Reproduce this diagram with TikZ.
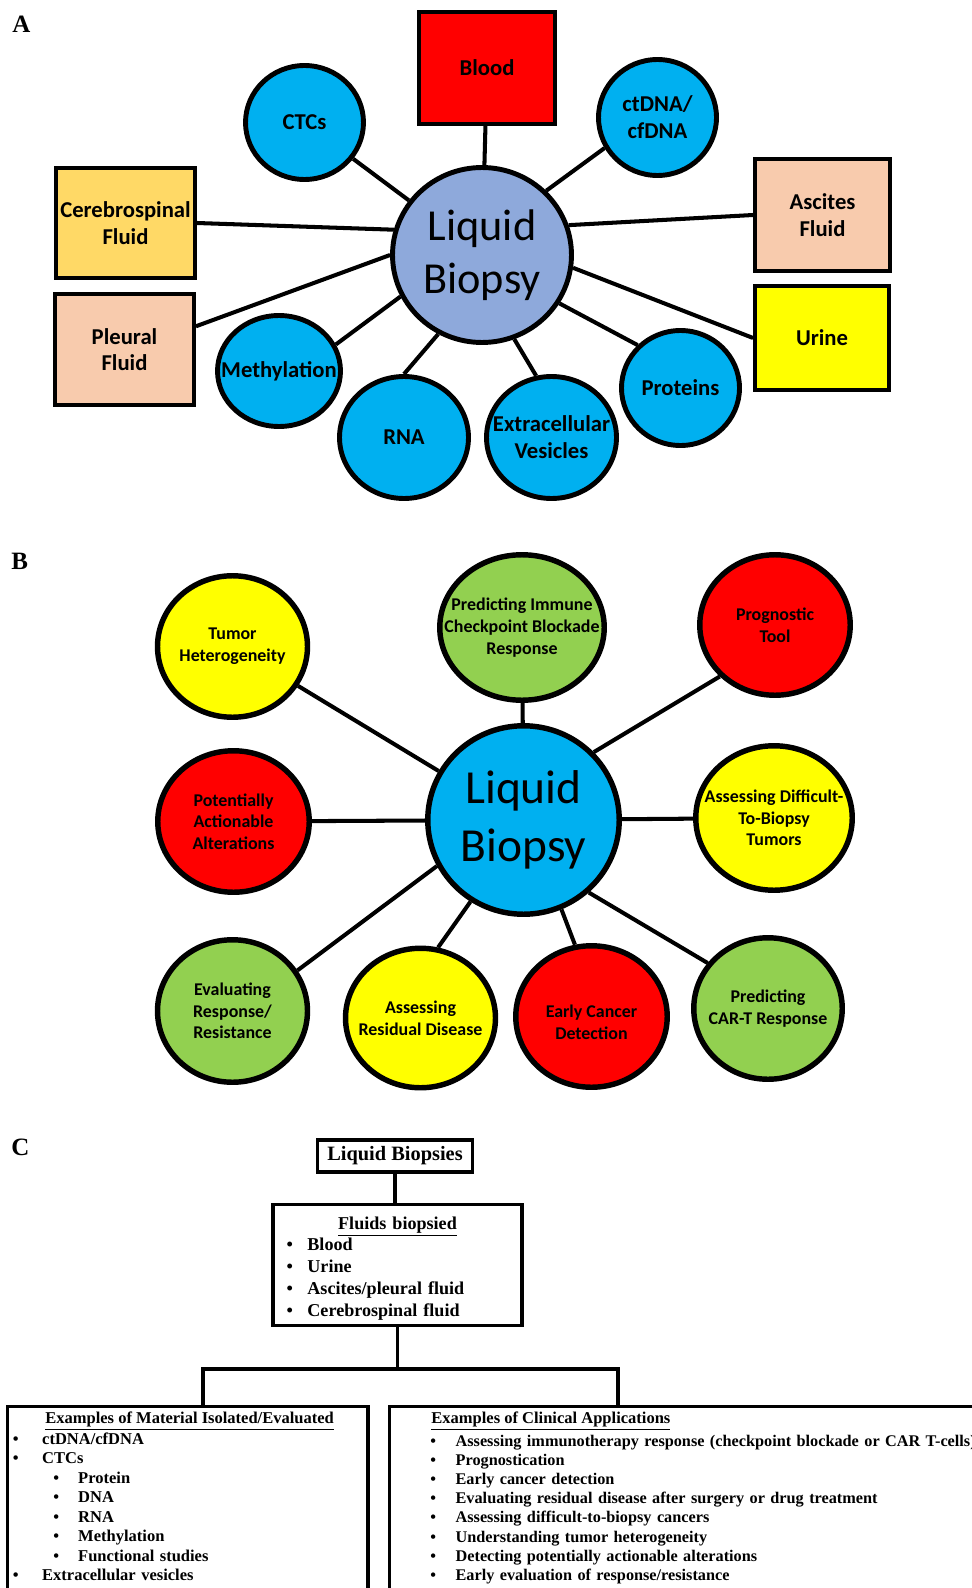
\documentclass[tikz,border=0pt]{standalone}
\usepackage{fontspec}
\setmainfont{Liberation Serif}
\newfontfamily\cali{Carlito}
\usepackage{xcolor}
\definecolor{cyan-500}{RGB}{0,176,240}
\definecolor{steel-300}{RGB}{142,169,219}
\definecolor{red-500}{RGB}{255,0,0}
\definecolor{gold-300}{RGB}{255,217,102}
\definecolor{peach-200}{RGB}{248,203,173}
\definecolor{yellow-400}{RGB}{255,255,0}
\definecolor{green-400}{RGB}{146,208,80}
\usepackage{tikz}
\usetikzlibrary{shapes.geometric}

\begin{document}
\begin{tikzpicture}[
    x=0.02cm, y=-0.02cm,
    panel/.style={
        anchor=base west,
        inner sep=0pt,
        font=\bfseries\fontsize{14.2}{16}\selectfont
    },
    hub/.style={
        ellipse,
        draw=black,
        fill=#1,
        inner sep=0pt,
        align=center
    },
    bubA/.style={
        ellipse,
        draw=black,
        line width=2.8pt,
        fill=cyan-500,
        inner sep=0pt
    },
    txtA/.style={
        inner sep=0pt,
        align=center,
        font=\cali\bfseries\fontsize{12.9}{15.4}\selectfont
    },
    boxA/.style={
        rectangle,
        draw=black,
        line width=2.5pt,
        fill=#1,
        inner sep=1pt,
        align=center,
        font=\cali\bfseries\fontsize{12.9}{15.1}\selectfont
    },
    bubB/.style={
        ellipse,
        draw=black,
        line width=3.1pt,
        fill=#1,
        inner sep=0pt,
        minimum width=3cm,
        minimum height=2.83cm
    },
    txtB/.style={
        inner sep=0pt,
        align=center,
        font=\cali\bfseries\fontsize{10.2}{12.3}\selectfont
    },
    spoke/.style={line width=2.3pt},
    tree/.style={line width=1.8pt},
    cbox/.style={
        rectangle,
        draw=black,
        line width=1.8pt,
        fill=white
    },
    listhead/.style={
        anchor=base west,
        inner sep=0pt,
        font=\bfseries\fontsize{9.4}{11.1}\selectfont
    },
    listtext/.style={
        anchor=base west,
        inner sep=0pt,
        align=left,
        font=\bfseries\fontsize{9.4}{11.1}\selectfont
    }
]

\clip (0,0) rectangle (972,1588);
\fill[white] (0,0) rectangle (972,1588);

% === PANEL A: sources and analytes ===
\node[panel] (labA) at (12,33) {A};

\node[hub=steel-300, line width=2.8pt, minimum width=3.58cm, minimum height=3.5cm,
      font=\cali\fontsize{25.2}{30}\selectfont] (hubA) at (482,255) {Liquid\\Biopsy};

% fluids (boxes)
\node[boxA=red-500, minimum width=2.71cm, minimum height=2.23cm] (blood) at (487,68) {Blood};
\node[boxA=gold-300, minimum width=2.77cm, minimum height=2.19cm] (csf) at (125.5,223) {Cerebrospinal\\Fluid};
\node[boxA=peach-200, minimum width=2.77cm, minimum height=2.21cm] (pleural) at (124.5,349.5) {Pleural\\Fluid};
\node[boxA=peach-200, minimum width=2.69cm, minimum height=2.23cm] (ascites) at (822.5,215) {Ascites\\Fluid};
\node[boxA=yellow-400, minimum width=2.67cm, minimum height=2.07cm] (urine) at (822,338) {Urine};

% analytes (circles)
\node[bubA, minimum width=2.36cm, minimum height=2.28cm, label={[txtA]center:CTCs}] (ctcs) at (304.5,122.5) {};
\node[bubA, minimum width=2.36cm, minimum height=2.32cm, label={[txtA]center:ctDNA/\\cfDNA}] (ctdna) at (657.5,117.5) {};
\node[bubA, minimum width=2.46cm, minimum height=2.22cm, label={[txtA]center:Methylation}] (methyl) at (279,371) {};
\node[bubA, minimum width=2.58cm, minimum height=2.44cm, label={[txtA]center:RNA}] (rna) at (404,437.5) {};
\node[bubA, minimum width=2.60cm, minimum height=2.44cm, label={[txtA]center:Extracellular\\Vesicles}] (vesicles) at (551.5,437.5) {};
\node[bubA, minimum width=2.36cm, minimum height=2.30cm, label={[txtA]center:Proteins}] (proteins) at (680.5,388) {};

% spokes
\draw[spoke] (hubA) -- (blood);
\draw[spoke] (hubA) -- (ctcs);
\draw[spoke] (hubA.45) -- (ctdna.210);
\draw[spoke] (hubA.164) -- (csf.east);
\draw[spoke] (hubA.180) -- (pleural.18);
\draw[spoke] (hubA.19) -- (ascites.west);
\draw[spoke] (hubA.-8) -- (urine.west);
\draw[spoke] (hubA.207) -- (methyl.25);
\draw[spoke] (hubA.241) -- (rna.north);
\draw[spoke] (hubA.-69) -- (vesicles.104);
\draw[spoke] (hubA.-32) -- (proteins.135);

% === PANEL B: clinical uses ===
\node[panel] (labB) at (11,569) {B};

\node[hub=cyan-500, line width=3.1pt, minimum width=3.83cm, minimum height=3.77cm,
      font=\cali\fontsize{27}{33}\selectfont] (hubB) at (523.5,820) {Liquid\\Biopsy};

\node[bubB=yellow-400, label={[txtB]center:Tumor\\Heterogeneity}] (hetero) at (232.5,646.5) {};
\node[bubB=green-400, minimum width=3.29cm, minimum height=2.91cm,
      label={[txtB]center:Predicting Immune\\Checkpoint Blockade\\Response}] (icb) at (522,627.5) {};
\node[bubB=red-500, minimum width=3.01cm, minimum height=2.81cm, label={[txtB]center:Prognostic\\Tool}] (prog) at (775,625) {};
\node[bubB=red-500, minimum width=3.03cm, label={[txtB]center:Potentially\\Actionable\\Alterations}] (action) at (233.5,821.5) {};
\node[bubB=yellow-400, minimum width=3.13cm, minimum height=2.89cm,
      label={[txtB]center:Assessing Difficult-\\To-Biopsy\\Tumors}] (difficult) at (774,818) {};
\node[bubB=green-400, minimum height=2.85cm, label={[txtB]center:Evaluating\\Response/\\Resistance}] (resist) at (232.5,1011) {};
\node[bubB=yellow-400, minimum height=2.79cm, label={[txtB]center:Assessing\\Residual Disease}] (residual) at (420.5,1018) {};
\node[bubB=red-500, minimum width=3.03cm, label={[txtB, yshift=-0.12cm]center:Early Cancer\\Detection}] (early) at (591.5,1016.5) {};
\node[bubB=green-400, minimum width=2.97cm, label={[txtB]center:Predicting\\CAR-T Response}] (cart) at (768,1008.5) {};

% spokes
\draw[spoke] (hubB.150) -- (hetero.-31);
\draw[spoke] (hubB) -- (icb);
\draw[spoke] (hubB.44) -- (prog.223);
\draw[spoke] (hubB) -- (action);
\draw[spoke] (hubB) -- (difficult);
\draw[spoke] (hubB.208) -- (resist.32);
\draw[spoke] (hubB.237) -- (residual.76);
\draw[spoke] (hubB.-67) -- (early.103);
\draw[spoke] (hubB.-48) -- (cart.143);

% === PANEL C: tree ===
\node[panel] (labC) at (11,1155) {C};

\node[cbox, minimum width=3.1cm, minimum height=0.64cm, inner sep=2pt,
      font=\bfseries\fontsize{11.6}{13}\selectfont] (lbx) at (395,1156) {Liquid Biopsies};

\node[cbox, minimum width=4.98cm, minimum height=2.38cm, inner xsep=0.27cm, text width=4.44cm, align=left,
      font=\bfseries\fontsize{10.3}{12.4}\selectfont] (fluids) at (397.5,1265) {
    \rule{0pt}{1.05em}\makebox[\linewidth]{\underline{Fluids biopsied}}\\
    \makebox[11.9pt][l]{\textbullet}Blood\\
    \makebox[11.9pt][l]{\textbullet}Urine\\
    \makebox[11.9pt][l]{\textbullet}Ascites/pleural fluid\\
    \makebox[11.9pt][l]{\textbullet}Cerebrospinal fluid
};

% lower boxes run past the page edge
\node[cbox, anchor=north west, minimum width=7.22cm, minimum height=4.2cm] (matbox) at (5.5,1404.5) {};
\node[cbox, anchor=north west, minimum width=12cm, minimum height=4.2cm] (appbox) at (387.5,1404.5) {};

\coordinate (split) at (397.5,1369);
\draw[tree] (lbx.south) -- (lbx.south |- fluids.north);
\draw[tree] (fluids.south) -- (split);
\draw[tree] (split) -| ([xshift=3.95cm]matbox.north west);
\draw[tree] (split) -| ([xshift=4.61cm]appbox.north west);

% material list
\node[listhead] (mathead) at (45,1423) {\underline{Examples of Material Isolated/Evaluated}};
\node[listtext, text width=6.8cm] (matlist) at (12.5,1444) {
    \makebox[16.7pt][l]{\textbullet}ctDNA/cfDNA\\
    \makebox[16.7pt][l]{\textbullet}CTCs\\
    \hspace*{23pt}\makebox[14.2pt][l]{\textbullet}Protein\\
    \hspace*{23pt}\makebox[14.2pt][l]{\textbullet}DNA\\
    \hspace*{23pt}\makebox[14.2pt][l]{\textbullet}RNA\\
    \hspace*{23pt}\makebox[14.2pt][l]{\textbullet}Methylation\\
    \hspace*{23pt}\makebox[14.2pt][l]{\textbullet}Functional studies\\
    \makebox[16.7pt][l]{\textbullet}Extracellular vesicles
};

% application list
\node[listhead] (apphead) at (431,1423) {\underline{Examples of Clinical Applications}};
\node[listtext, text width=12cm, font=\bfseries\fontsize{9.25}{10.95}\selectfont] (applist) at (430,1446) {
    \makebox[14.4pt][l]{\textbullet}Assessing immunotherapy response (checkpoint blockade or CAR T-cells)\\
    \makebox[14.4pt][l]{\textbullet}Prognostication\\
    \makebox[14.4pt][l]{\textbullet}Early cancer detection\\
    \makebox[14.4pt][l]{\textbullet}Evaluating residual disease after surgery or drug treatment\\
    \makebox[14.4pt][l]{\textbullet}Assessing difficult-to-biopsy cancers\\
    \makebox[14.4pt][l]{\textbullet}Understanding tumor heterogeneity\\
    \makebox[14.4pt][l]{\textbullet}Detecting potentially actionable alterations\\
    \makebox[14.4pt][l]{\textbullet}Early evaluation of response/resistance
};

\end{tikzpicture}
\end{document}
